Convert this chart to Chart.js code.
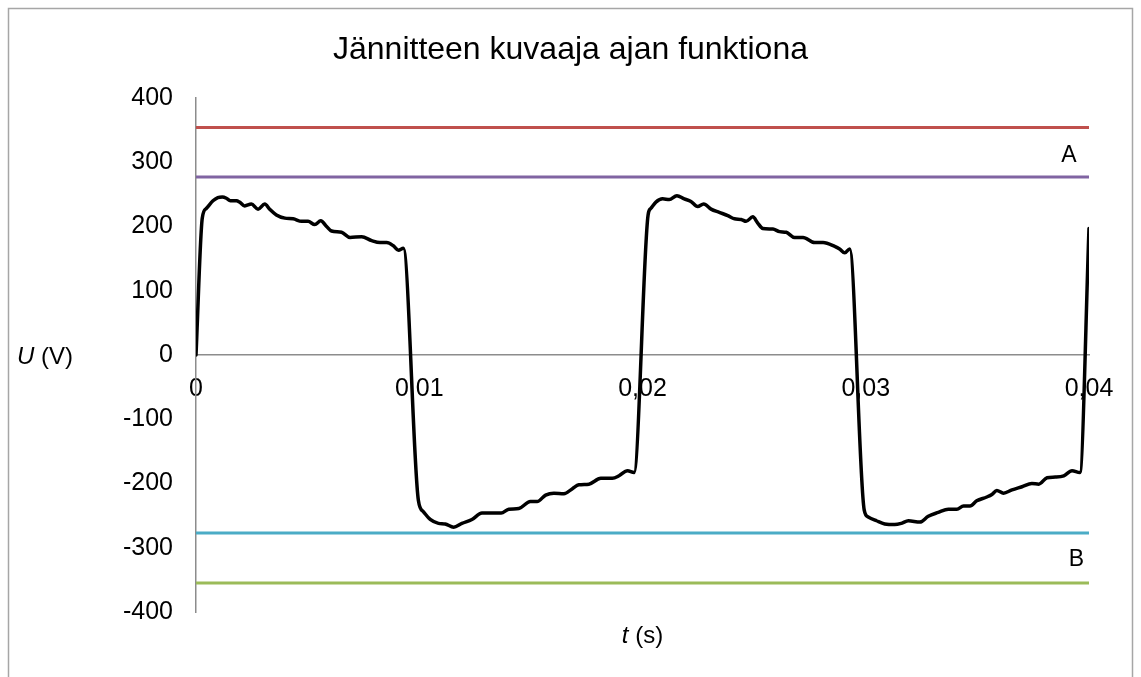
<!DOCTYPE html>
<html>
<head>
<meta charset="utf-8">
<script src="https://cdn.jsdelivr.net/npm/chart.js@4/dist/chart.umd.min.js"></script>
<style>
  html, body { margin: 0; padding: 0; background: #ffffff; }
  #wrap { width: 1141px; height: 677px; position: relative; }
</style>
</head>
<body>
<div id="wrap"><canvas id="c" width="1141" height="677"></canvas></div>
<script>
// ---- Data ----
const chartTitle = "Jännitteen kuvaaja ajan funktiona";
const timeValues = [
  0, 0.00028, 0.00046, 0.00076, 0.00098, 0.00118, 0.00136, 0.00154, 0.00181, 0.00195,
  0.00218, 0.00248, 0.00278, 0.00308, 0.00330, 0.00360, 0.00398, 0.00435, 0.00473, 0.00502,
  0.00532, 0.00559, 0.00585, 0.00607, 0.00652, 0.00690, 0.00742, 0.00787, 0.00824, 0.00854,
  0.00884, 0.00907, 0.00929,
  0.00996, 0.01019, 0.01049, 0.01086, 0.01116, 0.01154, 0.01191, 0.01236, 0.01281, 0.01326,
  0.01367, 0.01401, 0.01446, 0.01498, 0.01528, 0.01566, 0.01603, 0.01648, 0.01686, 0.01715,
  0.01760, 0.01813, 0.01865, 0.01895, 0.01933, 0.01962,
  0.02025, 0.02037, 0.02060, 0.02090, 0.02120, 0.02154, 0.02187, 0.02217, 0.02247, 0.02274,
  0.02307, 0.02344, 0.02382, 0.02412, 0.02442, 0.02464, 0.02494, 0.02517, 0.02539, 0.02584,
  0.02614, 0.02644, 0.02681, 0.02719, 0.02771, 0.02809, 0.02861, 0.02883, 0.02906, 0.02928,
  0.02993, 0.03011, 0.03048, 0.03085, 0.03130, 0.03160, 0.03191, 0.03243, 0.03280, 0.03325,
  0.03370, 0.03408, 0.03438, 0.03467, 0.03497, 0.03542, 0.03565, 0.03587, 0.03617, 0.03655,
  0.03700, 0.03744, 0.03775, 0.03812, 0.03849, 0.03887, 0.03924, 0.03959, 0.04
];
const voltageValues = [
  0, 213, 228, 240, 245, 246, 244, 240, 240, 238,
  232, 235, 227, 235, 227, 218, 213, 212, 208, 208,
  203, 209, 200, 193, 191, 183, 184, 178, 175, 175,
  170, 163, 166,
  -226, -244, -256, -262, -263, -268, -262, -256, -246, -246,
  -246, -240, -239, -228, -228, -218, -215, -216, -208, -202,
  -201, -192, -192, -188, -180, -183,
  218, 228, 238, 243, 242, 248, 243, 239, 231, 235,
  227, 222, 217, 212, 211, 208, 215, 205, 197, 196,
  192, 191, 183, 183, 175, 175, 169, 165, 159, 165,
  -241, -252, -258, -263, -264, -262, -258, -260, -251, -245,
  -240, -240, -235, -235, -227, -221, -217, -211, -215, -210,
  -205, -200, -201, -191, -190, -188, -180, -183, 197
];
const levelRed = 354;
const levelPurple = 277;
const levelCyan = -277;
const levelGreen = -355;
const timeRange = [0, 0.04];
const xTickValues = [0, 0.01, 0.02, 0.03, 0.04];
const xTickLabels = ["0", "0,01", "0,02", "0,03", "0,04"];
const yTickValues = [-400, -300, -200, -100, 0, 100, 200, 300, 400];
const levelLabelA = "A";
const levelLabelB = "B";

// ---- Build datasets ----
const curvePoints = timeValues.map((t, i) => ({ x: t, y: voltageValues[i] }));
const levelLine = v => timeRange.map(t => ({ x: t, y: v }));

const FONT = "'Liberation Sans', Arial, sans-serif";

const decorPlugin = {
  id: 'decor',
  beforeDraw(chart) {
    const ctx = chart.ctx;
    ctx.save();
    ctx.fillStyle = '#ffffff';
    ctx.fillRect(0, 0, chart.width, chart.height);
    ctx.strokeStyle = '#a6a6a6';
    ctx.lineWidth = 1.5;
    ctx.beginPath();
    ctx.moveTo(8.5, 690);
    ctx.lineTo(8.5, 8.5);
    ctx.lineTo(1132.5, 8.5);
    ctx.lineTo(1132.5, 690);
    ctx.stroke();
    ctx.restore();
  },
  afterDraw(chart) {
    const ctx = chart.ctx;
    const area = chart.chartArea;
    const ys = chart.scales.y;
    ctx.save();
    ctx.fillStyle = '#000000';
    ctx.textBaseline = 'alphabetic';
    // title
    ctx.font = "32px " + FONT;
    ctx.textAlign = 'center';
    ctx.fillText(chartTitle, chart.width / 2, 59);
    // x axis title: t (s)
    ctx.font = "italic 24px " + FONT;
    const tW = ctx.measureText('t').width;
    ctx.font = "24px " + FONT;
    const restX = ' (s)';
    const rW = ctx.measureText(restX).width;
    let sx = (area.left + area.right) / 2 - (tW + rW) / 2;
    ctx.textAlign = 'left';
    ctx.font = "italic 24px " + FONT;
    ctx.fillText('t', sx, 643);
    ctx.font = "24px " + FONT;
    ctx.fillText(restX, sx + tW, 643);
    // y axis title: U (V)
    const y0 = ys.getPixelForValue(0);
    ctx.font = "italic 24px " + FONT;
    const uW = ctx.measureText('U').width;
    ctx.fillText('U', 17, y0 + 9);
    ctx.font = "24px " + FONT;
    ctx.fillText(' (V)', 17 + uW, y0 + 9);
    // A and B labels
    ctx.textAlign = 'center';
    ctx.font = "23px " + FONT;
    ctx.fillText(levelLabelA, 1069, 162);
    ctx.fillText(levelLabelB, 1076.5, 566);
    ctx.restore();
  }
};

new Chart(document.getElementById('c'), {
  type: 'line',
  data: {
    datasets: [
      { data: levelLine(levelRed), borderColor: '#C0504D', borderWidth: 3, pointRadius: 0, order: 2 },
      { data: levelLine(levelPurple), borderColor: '#8064A2', borderWidth: 3, pointRadius: 0, order: 2 },
      { data: levelLine(levelCyan), borderColor: '#4BACC6', borderWidth: 3, pointRadius: 0, order: 2 },
      { data: levelLine(levelGreen), borderColor: '#9BBB59', borderWidth: 3, pointRadius: 0, order: 2 },
      { data: curvePoints, borderColor: '#000000', borderWidth: 3.5, pointRadius: 0,
        cubicInterpolationMode: 'monotone', order: 1, borderJoinStyle: 'round', borderCapStyle: 'round' }
    ]
  },
  options: {
    responsive: false,
    animation: false,
    layout: { padding: { top: 98, bottom: 65, left: 0, right: 52 } },
    plugins: {
      legend: { display: false },
      title: { display: false },
      tooltip: { enabled: false }
    },
    scales: {
      x: {
        type: 'linear',
        min: timeRange[0],
        max: timeRange[1],
        position: { y: 0 },
        grid: { display: false, drawTicks: false },
        border: { display: true, color: '#8c8c8c', width: 1.5 },
        afterBuildTicks: s => { s.ticks = xTickValues.map(v => ({ value: v })); },
        ticks: {
          autoSkip: false,
          maxRotation: 0,
          padding: 19,
          color: '#000000',
          font: { family: FONT, size: 25 },
          callback: (v) => { const i = xTickValues.indexOf(v); return i >= 0 ? xTickLabels[i] : ''; }
        }
      },
      y: {
        type: 'linear',
        min: -400,
        max: 400,
        position: 'left',
        grid: { display: false, drawTicks: false },
        border: { display: true, color: '#8c8c8c', width: 1.5 },
        afterBuildTicks: s => { s.ticks = yTickValues.map(v => ({ value: v })); },
        afterFit: s => { s.width = 196; },
        ticks: {
          padding: 23,
          color: '#000000',
          font: { family: FONT, size: 25 },
          callback: v => String(v)
        }
      }
    }
  },
  plugins: [decorPlugin]
});
</script>
</body>
</html>
